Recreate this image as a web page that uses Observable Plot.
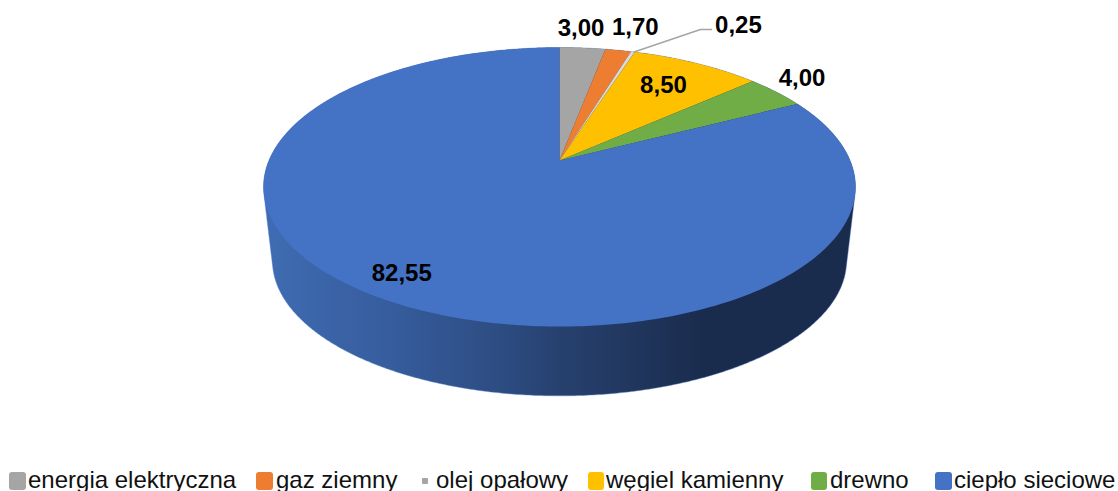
<!DOCTYPE html>
<html lang="pl">
<head>
<meta charset="utf-8">
<script src="https://cdn.jsdelivr.net/npm/d3@7"></script>
<script src="https://cdn.jsdelivr.net/npm/@observablehq/plot@0.6"></script>
<style>
html,body{margin:0;padding:0;background:#fff;overflow:hidden;width:1118px;height:491px}
svg{display:block}
#legend{position:relative;width:1118px;height:29px;font:24px "Liberation Sans",Arial,sans-serif;color:#111}
#legend .sw{position:absolute;border-radius:3px}
#legend .tx{position:absolute;top:5px;line-height:26px;white-space:nowrap}
</style>
</head>
<body>
<div id="chart"></div>
<div id="legend"></div>
<script>
// --- data ---
const categories = ["energia elektryczna", "gaz ziemny", "olej opałowy", "węgiel kamienny", "drewno", "ciepło sieciowe"];
const values = [3.00, 1.70, 0.25, 8.50, 4.00, 82.55];
const sliceLabels = ["3,00", "1,70", "0,25", "8,50", "4,00", "82,55"];
const colors = ["#a5a5a5", "#ed7d31", "#d9d9d9", "#ffc000", "#70ad47", "#4472c4"];

// --- layout (kept apart from the data) ---
const W = 1118, H = 462;
const persp = 0.19;                 // tilt of the disc
const cx = 559, cy = 160, ax = 290.6, ay = 134.5;
const wallScale = 0.97, wallShift = 0.5524;
const labelNudge = [[-1.5,-20],[17,-23],[105.5,-27],[-33,22],[26,-14],[23,-24]];
const legendSwatch = [[9,472,17,18],[256,472,17,18],[422,478,6,6],[588,472,16,18],[811,472,16,18],[935,472,17,18]];
const legendText = [28,276,436,606,830,954];
const wallStops = [[0,"#3f6cb3"],[0.22,"#365c9c"],[0.40,"#2d4c82"],[0.50,"#27416f"],[0.64,"#20355b"],[0.74,"#1a2c4e"],[1,"#1a2c4e"]];

// perspective projection of a point of the unit disc (clockwise from 12 o'clock, t in 0..1)
function project(t, r = 1) {
  const a = t * 2 * Math.PI, u = r * Math.sin(a), v = -r * Math.cos(a), w = 1 - persp * v;
  return {x: u / w, y: v / w};
}
const total = d3.sum(values);
const cum = d3.cumsum(values).map(c => c / total);
const starts = [0, ...cum.slice(0, -1)];

const sliceRows = categories.flatMap((name, i) => {
  const n = Math.max(2, Math.ceil((cum[i] - starts[i]) * 360));
  const arc = d3.range(n + 1).map(j => project(starts[i] + (cum[i] - starts[i]) * j / n));
  return [{x: 0, y: 0}, ...arc].map(p => ({...p, name}));
});

const rim = d3.range(720).map(j => project(j / 720));
const hull = d3.polygonHull([
  ...rim.map(p => [p.x, p.y]),
  ...rim.map(p => [p.x * wallScale, p.y * wallScale + wallShift])
]).map(([x, y]) => ({x, y}));

const mids = starts.map((s, i) => (s + cum[i]) / 2);
const edge = project(cum[2] - 0.0005);
const leader = [edge, {x: 0.485, y: -0.974}, {x: 0.523, y: -0.974}];

function defs() {
  const ns = "http://www.w3.org/2000/svg";
  const d = document.createElementNS(ns, "defs");
  const g = document.createElementNS(ns, "linearGradient");
  g.setAttribute("id", "wall");
  g.setAttribute("x1", "0"); g.setAttribute("x2", "1"); g.setAttribute("y1", "0"); g.setAttribute("y2", "0");
  for (const [o, c] of wallStops) {
    const s = document.createElementNS(ns, "stop");
    s.setAttribute("offset", o); s.setAttribute("stop-color", c);
    g.appendChild(s);
  }
  d.appendChild(g);
  return d;
}

const plot = Plot.plot({
  width: W, height: H,
  margin: 0,
  style: {background: "#fff", fontFamily: '"Liberation Sans", Arial, sans-serif'},
  x: {domain: [-1, 1], range: [cx - ax, cx + ax], axis: null},
  y: {domain: [-1, 1], range: [cy - ay, cy + ay], axis: null},
  color: {type: "ordinal", domain: categories, range: colors},
  marks: [
    defs,
    Plot.line(hull, {x: "x", y: "y", fill: "url(#wall)", stroke: "#5f86cf", strokeWidth: 0.6, strokeOpacity: 0.7, curve: "linear-closed"}),
    Plot.line(sliceRows, {x: "x", y: "y", z: "name", fill: "name", stroke: "none", curve: "linear-closed"}),
    Plot.line(leader, {x: "x", y: "y", stroke: "#a5a5a5", strokeWidth: 1.5}),
    ...sliceLabels.map((text, i) => {
      const p = project(mids[i]);
      return Plot.text([{...p, text}], {
        x: "x", y: "y", text: "text",
        dx: labelNudge[i][0], dy: labelNudge[i][1],
        fontSize: 24, fontWeight: "bold", fill: "#000",
        textAnchor: "middle", lineAnchor: "middle"
      });
    })
  ]
});
document.getElementById("chart").appendChild(plot);

const legend = d3.select("#legend");
categories.forEach((name, i) => {
  const [l, t, w, h] = legendSwatch[i];
  legend.append("div").attr("class", "sw")
    .style("left", l + "px").style("top", (t - H) + "px")
    .style("width", w + "px").style("height", h + "px")
    .style("border-radius", w < 10 ? "1px" : "3px")
    .style("background", i === 2 ? "#a5a5a5" : colors[i]);
  legend.append("div").attr("class", "tx")
    .style("left", legendText[i] + "px").text(name);
});
</script>
</body>
</html>
